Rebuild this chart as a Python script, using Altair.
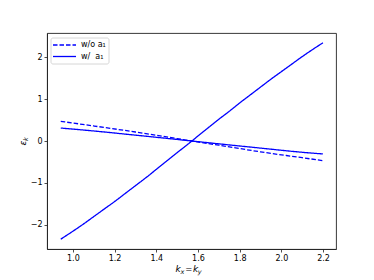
import altair as alt
import pandas as pd

# steep branch (solid, w/ a1)
k_steep = [0.942, 1.0, 1.05, 1.1, 1.15, 1.2, 1.25, 1.3, 1.35, 1.4, 1.45, 1.5, 1.571, 1.6, 1.65,
           1.7, 1.75, 1.8, 1.85, 1.9, 1.95, 2.0, 2.05, 2.1, 2.15, 2.199]
e_steep = [-2.35, -2.16, -1.99, -1.81, -1.63, -1.45, -1.26, -1.07, -0.88, -0.68, -0.48, -0.28, 0.0, 0.12, 0.32,
           0.52, 0.71, 0.91, 1.10, 1.29, 1.48, 1.66, 1.84, 2.02, 2.19, 2.35]

# flat branch without a1 (dashed)
k_wo = [0.942, 1.1, 1.3, 1.5, 1.571, 1.7, 1.9, 2.1, 2.199]
e_wo = [0.47, 0.36, 0.215, 0.057, 0.0, -0.10, -0.26, -0.40, -0.47]

# flat branch with a1 (solid)
k_w = [0.942, 1.1, 1.3, 1.5, 1.571, 1.7, 1.9, 2.1, 2.199]
e_w = [0.31, 0.24, 0.14, 0.037, 0.0, -0.068, -0.17, -0.27, -0.31]

LBL_WO = "w/o a\u2081"
LBL_W = "w/\u00a0\u00a0a\u2081"

rows = []
for k, e in zip(k_wo, e_wo):
    rows.append({"k": k, "e": e, "series": "wo", "branch": "wo"})
for k, e in zip(k_w, e_w):
    rows.append({"k": k, "e": e, "series": "w", "branch": "w_flat"})
for k, e in zip(k_steep, e_steep):
    rows.append({"k": k, "e": e, "series": "w", "branch": "w_steep"})
df = pd.DataFrame(rows)

W, H = 289, 216
font = "DejaVu Sans"
BLUE = "#0000ff"

lines = alt.Chart(df).mark_line(color=BLUE, strokeWidth=1.3, clip=True, interpolate="monotone").encode(
    x=alt.X("k:Q", scale=alt.Scale(domain=[0.876, 2.262], nice=False, zero=False),
            axis=alt.Axis(values=[1.0, 1.2, 1.4, 1.6, 1.8, 2.0, 2.2], format=".1f", title=None,
                          grid=False, tickSize=3, labelFontSize=8, labelPadding=2)),
    y=alt.Y("e:Q", scale=alt.Scale(domain=[-2.585, 2.585], nice=False, zero=False),
            axis=alt.Axis(values=[-2, -1, 0, 1, 2], format="d", title=None,
                          grid=False, tickSize=3, labelFontSize=8, labelPadding=2,
                          labelExpr="replace(datum.label, '-', '\u2212')")),
    strokeDash=alt.StrokeDash("series:N",
        scale=alt.Scale(domain=["wo", "w"], range=[[4.5, 2], [1, 0]]), legend=None),
    detail="branch:N",
    order="k:Q",
)

one = pd.DataFrame({"a": [0]})
leg_box = alt.Chart(one).mark_rect(fill="white", stroke="#cccccc", strokeWidth=0.8, cornerRadius=2).encode(
    x=alt.value(4), x2=alt.value(62), y=alt.value(5), y2=alt.value(31))
leg_l1 = alt.Chart(one).mark_rule(color=BLUE, strokeWidth=1.3, strokeDash=[4.5, 2]).encode(
    x=alt.value(6), x2=alt.value(29), y=alt.value(12))
leg_l2 = alt.Chart(one).mark_rule(color=BLUE, strokeWidth=1.3).encode(
    x=alt.value(6), x2=alt.value(29), y=alt.value(23.5))
leg_t1 = alt.Chart(one).mark_text(font=font, fontSize=8, align="left", baseline="middle", color="black").encode(
    x=alt.value(34), y=alt.value(12), text=alt.value(LBL_WO))
leg_t2 = alt.Chart(one).mark_text(font=font, fontSize=8, align="left", baseline="middle", color="black").encode(
    x=alt.value(34), y=alt.value(23.5), text=alt.value(LBL_W))

xt = pd.DataFrame({"t": ["k", "x", "k", "y"],
                   "px": [131, 135.3, 148.5, 152.6],
                   "py": [236, 239, 236, 239],
                   "fs": [9, 6.5, 9, 6.5]})
xtitle = alt.Chart(xt).mark_text(font=font, fontStyle="italic", align="center", baseline="middle", color="black").encode(
    x=alt.X("px:Q", scale=None), y=alt.Y("py:Q", scale=None), text="t:N", size=alt.Size("fs:Q", scale=None, legend=None)
)
xeq = alt.Chart(one).mark_text(font=font, fontSize=8.5, align="center", baseline="middle", color="black").encode(
    x=alt.value(141.8), y=alt.value(235.5), text=alt.value("="))

yt = pd.DataFrame({"t": ["\u03b5", "k"], "px": [-24, -21.5], "py": [110, 106], "fs": [9, 6.5]})
ytitle = alt.Chart(yt).mark_text(font=font, fontStyle="italic", align="center", baseline="middle", angle=270, color="black").encode(
    x=alt.X("px:Q", scale=None), y=alt.Y("py:Q", scale=None), text="t:N", size=alt.Size("fs:Q", scale=None, legend=None)
)

chart = alt.layer(lines, leg_box, leg_l1, leg_l2, leg_t1, leg_t2, xtitle, xeq, ytitle).properties(
    width=W, height=H,
    autosize=alt.AutoSizeParams(type="none"),
    padding={"left": 39, "top": 25, "right": 30, "bottom": 30},
).configure_view(stroke="#222", strokeWidth=0.9).configure_axis(
    domainColor="#222", domainWidth=0.9, tickColor="#222", tickWidth=0.8,
    labelFont=font, labelColor="black"
)

chart.save("out.html", embed_options={"renderer": "svg", "actions": False})
